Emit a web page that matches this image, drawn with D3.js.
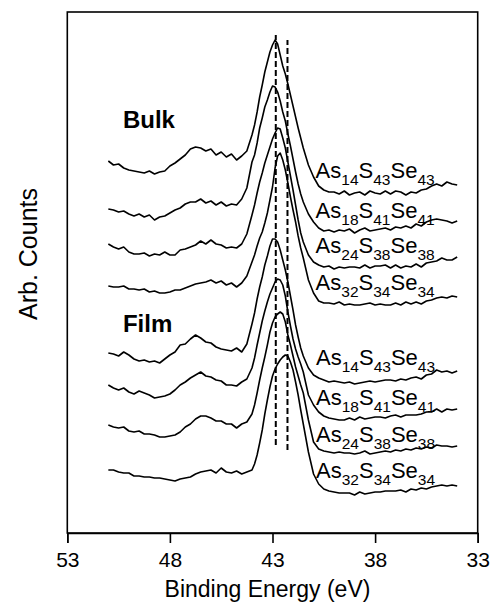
<!DOCTYPE html>
<html>
<head>
<meta charset="utf-8">
<script src="https://cdn.jsdelivr.net/npm/d3@7"></script>
<style>
  html, body { margin: 0; padding: 0; background: #fff; }
  svg { display: block; }
  text { font-family: "Liberation Sans", Arial, sans-serif; fill: #000; }
</style>
</head>
<body>
<svg id="chart" width="493" height="607"></svg>
<script>
// Binding energy grid (eV), finer across the As 3d peak
const energy = [
  51.0, 50.75, 50.5, 50.25, 50.0, 49.75, 49.5, 49.25, 49.0, 48.75, 48.5, 48.25, 48.0, 47.75,
  47.5, 47.25, 47.0, 46.75, 46.5, 46.25, 46.0, 45.75, 45.5, 45.25, 45.0, 44.75, 44.5, 44.25,
  44.0, 43.875, 43.75, 43.625, 43.5, 43.375, 43.25, 43.125, 43.0, 42.875, 42.75, 42.625, 42.5,
  42.375, 42.25, 42.125, 42.0, 41.875, 41.75, 41.625, 41.5,
  41.25, 41.0, 40.75, 40.5, 40.25, 40.0, 39.75, 39.5, 39.25, 39.0, 38.75, 38.5, 38.25, 38.0,
  37.75, 37.5, 37.25, 37.0, 36.75, 36.5, 36.25, 36.0, 35.75, 35.5, 35.25, 35.0, 34.75, 34.5,
  34.25, 34.0
];

// Stacked spectra (arbitrary counts, offsets included)
const bulk14 = [
  372,368,369,365,363,362,361,360,362,359,361,362,367,370,374,378,384,386,385,382,384,378,381,376,379,373,377,382,
  398,408,421,436,448,461,471,481,488,493,489,478,467,459,449,438,427,416,405,395,385,
  368,356,347,343,341,341,339,342,338,340,341,338,342,340,339,342,339,342,341,338,341,340,343,344,347,349,347,351,349,348
];
const bulk18 = [
  324,323,321,322,319,317,319,316,318,313,316,317,320,323,325,329,331,331,334,330,332,328,331,327,329,328,334,345,
  371,378,390,405,415,426,433,441,447,446,441,432,421,412,399,387,374,361,349,339,331,
  319,311,305,302,303,301,303,302,304,300,303,305,302,303,304,305,303,306,305,307,305,309,307,311,313,314,313,312,310,312
];
const bulk24 = [
  289,286,284,286,281,279,279,280,277,279,278,281,278,278,283,284,286,288,292,289,293,289,288,285,286,285,289,299,
  318,328,340,351,360,370,378,386,394,400,405,404,395,385,371,357,343,328,313,300,291,
  278,271,268,266,267,264,266,265,266,266,265,268,265,267,267,268,265,268,265,267,266,269,266,270,271,272,275,273,273,276
];
const bulk32 = [
  247,246,246,247,244,244,243,244,241,242,240,240,241,243,243,245,247,249,250,251,253,250,252,248,250,246,250,257,
  271,278,287,295,301,310,320,333,346,365,377,380,373,363,350,336,323,311,297,285,275,
  253,240,232,230,230,229,231,228,229,228,228,229,230,228,229,228,228,230,228,231,229,231,229,232,233,235,236,235,237,236
];
const film14 = [
  180,179,177,181,178,174,172,173,171,172,170,174,178,181,188,189,194,198,195,191,190,186,184,183,182,185,181,189,
  209,220,234,246,256,268,277,287,294,294,291,283,273,263,251,237,223,208,196,185,177,
  165,158,155,153,151,152,151,150,151,149,150,151,152,151,152,153,153,152,154,153,155,156,154,158,159,163,161,162,160,162
];
const film18 = [
  148,145,143,145,141,139,142,140,138,135,136,137,139,143,148,151,155,158,161,157,156,153,152,148,148,147,151,154,
  165,175,188,200,212,222,231,239,245,251,254,253,248,237,221,207,194,184,176,169,161,
  138,128,121,117,115,114,113,113,115,113,116,114,115,116,116,115,117,118,116,118,118,118,119,121,121,124,121,124,123,124
];
const film24 = [
  108,106,105,106,102,101,102,99,99,98,96,96,97,98,101,106,109,114,117,117,115,112,112,109,109,105,109,111,
  119,128,140,153,165,176,188,201,210,216,219,221,219,211,198,188,177,166,157,148,140,
  113,91,84,82,81,80,81,80,80,79,80,82,79,80,81,82,81,83,82,84,83,85,84,86,85,88,87,87,86,87
];
const film32 = [
  63,63,61,60,60,57,57,56,56,55,55,54,53,52,54,55,56,59,61,62,63,60,65,61,60,62,59,61,
  63,69,78,90,103,119,133,146,157,164,169,173,176,178,177,171,163,151,138,123,109,
  81,59,49,44,42,41,40,40,40,38,41,39,40,41,41,42,42,42,43,41,44,43,45,44,46,47,48,47,48,47
];

// Compositions As, S, Se (at.%) in stacking order
const compositions = [[14, 43, 43], [18, 41, 41], [24, 38, 38], [32, 34, 34]];
const bulkSeries = [bulk14, bulk18, bulk24, bulk32];
const filmSeries = [film14, film18, film24, film32];

// Reference peak positions (eV) and their vertical extent (counts)
const refEnergy = [42.84, 42.27];
const refLow = [88, 83];
const refHigh = [498, 493];

const xTicks = [53, 48, 43, 38, 33];

// ---- layout ----
const margin = { left: 67.3, right: 477.7, top: 12, bottom: 533 };
const svg = d3.select("#chart");

const x = d3.scaleLinear().domain([53, 33]).range([margin.left, margin.right]);
const y = d3.scaleLinear().domain([0, 521]).range([margin.bottom, margin.top]);

// spectra
const line = d3.line()
  .x((d, i) => x(energy[i]))
  .y(d => y(d));

const allSeries = bulkSeries.concat(filmSeries);
svg.append("g")
  .selectAll("path")
  .data(allSeries)
  .join("path")
  .attr("d", line)
  .attr("fill", "none")
  .attr("stroke", "#000")
  .attr("stroke-width", 1.6)
  .attr("stroke-linejoin", "round");

// dashed peak markers
svg.append("g")
  .selectAll("line")
  .data(refEnergy)
  .join("line")
  .attr("x1", d => x(d))
  .attr("x2", d => x(d))
  .attr("y1", (d, i) => y(refLow[i]))
  .attr("y2", (d, i) => y(refHigh[i]))
  .attr("stroke", "#000")
  .attr("stroke-width", 2)
  .attr("stroke-dasharray", "6,3");

// frame
svg.append("rect")
  .attr("x", margin.left)
  .attr("y", margin.top)
  .attr("width", margin.right - margin.left)
  .attr("height", margin.bottom - margin.top)
  .attr("fill", "none")
  .attr("stroke", "#000")
  .attr("stroke-width", 1.6);

// x axis
const xAxis = svg.append("g")
  .attr("transform", `translate(0,${margin.bottom})`)
  .call(d3.axisBottom(x).tickValues(xTicks).tickSize(10).tickFormat(d3.format("d")));
xAxis.select(".domain").attr("stroke-width", 1.6);
xAxis.selectAll(".tick line").attr("stroke-width", 1.6);
xAxis.selectAll(".tick text")
  .attr("dy", null)
  .attr("y", 34)
  .style("font-size", "21px")
  .style("font-family", '"Liberation Sans", Arial, sans-serif')
  .attr("fill", "#000");

svg.append("text")
  .attr("x", (margin.left + margin.right) / 2 - 5)
  .attr("y", 597)
  .attr("text-anchor", "middle")
  .style("font-size", "23px")
  .text("Binding Energy (eV)");

svg.append("text")
  .attr("transform", "translate(37,254) rotate(-90)")
  .attr("text-anchor", "middle")
  .style("font-size", "25px")
  .text("Arb. Counts");

// group labels
svg.append("text")
  .attr("x", x(50.29)).attr("y", y(405))
  .style("font-size", "24px").style("font-weight", "bold")
  .text("Bulk");
svg.append("text")
  .attr("x", x(50.29)).attr("y", y(201))
  .style("font-size", "24px").style("font-weight", "bold")
  .text("Film");

// composition labels with subscripts
function formula(sel, comp) {
  const parts = [["As", comp[0]], ["S", comp[1]], ["Se", comp[2]]];
  parts.forEach(([el, n], k) => {
    sel.append("tspan").attr("dy", k === 0 ? 0 : -7).text(el);
    sel.append("tspan").attr("dy", 7).style("font-size", "15.5px").text(n);
  });
}
const bulkLabelY = [355, 315, 280, 243];
const filmLabelY = [168, 128, 91, 55];
compositions.forEach((c, i) => {
  const t1 = svg.append("text").attr("x", x(40.9)).attr("y", y(bulkLabelY[i])).style("font-size", "22px");
  formula(t1, c);
  const t2 = svg.append("text").attr("x", x(40.88)).attr("y", y(filmLabelY[i])).style("font-size", "22px");
  formula(t2, c);
});
</script>
</body>
</html>
